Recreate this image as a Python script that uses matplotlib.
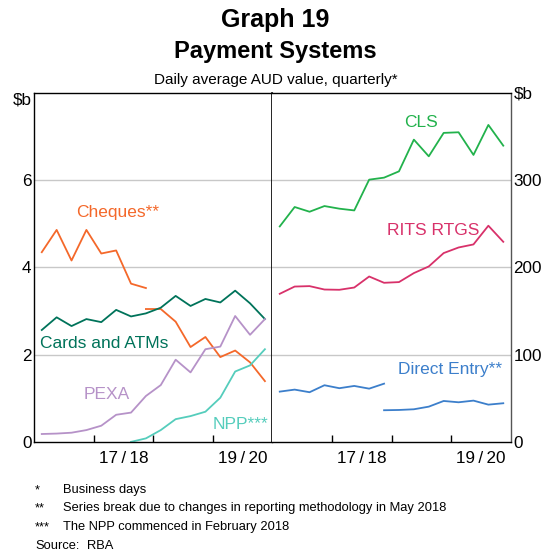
import numpy as np
import matplotlib
matplotlib.use("Agg")
import matplotlib.pyplot as plt

plt.rcParams['font.family'] = ['Liberation Sans', 'DejaVu Sans']

# quarters Sep-2016 .. Jun-2020 (16 quarters), plotted mid-quarter
quarters = np.arange(16) + 0.5

# left panel, $b
cheques_old = [4.35, 4.86, 4.16, 4.86, 4.32, 4.39, 3.63, 3.53]
cheques_new = [3.05, 3.05, 2.76, 2.18, 2.41, 1.95, 2.10, 1.83, 1.40]
cards_atms = [2.57, 2.86, 2.66, 2.82, 2.75, 3.03, 2.88, 2.95, 3.08, 3.35, 3.12, 3.28, 3.20, 3.47, 3.18, 2.82]
pexa = [0.19, 0.20, 0.22, 0.28, 0.38, 0.63, 0.68, 1.06, 1.31, 1.89, 1.60, 2.13, 2.19, 2.89, 2.46, 2.82]
npp = [0.01, 0.09, 0.28, 0.53, 0.60, 0.70, 1.02, 1.62, 1.76, 2.13]

# right panel, $b
cls = [247.0, 269.2, 263.8, 270.3, 267.3, 265.3, 300.5, 302.8, 310.0, 346.3, 327.2, 354.0, 354.7, 328.8, 363.1, 339.4]
rits = [169.9, 178.2, 178.7, 174.8, 174.5, 177.1, 189.7, 182.5, 183.3, 193.6, 201.2, 216.5, 222.9, 226.4, 247.8, 229.4]
de_old = [58.0, 60.3, 57.3, 65.3, 61.9, 64.5, 61.4, 67.1]
de_new = [36.7, 37.0, 37.8, 40.8, 47.3, 45.8, 47.7, 43.1, 44.7]

year_labels = ['17\u2009/\u200918', '19\u2009/\u200920']

c_cheq = '#F4682A'
c_cards = '#00735A'
c_pexa = '#B692C8'
c_npp = '#55CDBC'
c_cls = '#22B24C'
c_rits = '#D8316A'
c_de = '#3C7FCB'

fig = plt.figure(figsize=(5.51, 5.57), dpi=100)
axl = fig.add_axes([0.0623, 0.2059, 0.432, 0.6277])
axr = fig.add_axes([0.4942, 0.2059, 0.4327, 0.6277])

lw = 1.3
axl.plot(quarters[:8], cheques_old, color=c_cheq, lw=lw)
axl.plot(quarters[7:], cheques_new, color=c_cheq, lw=lw)
axl.plot(quarters, cards_atms, color=c_cards, lw=lw)
axl.plot(quarters, pexa, color=c_pexa, lw=lw)
axl.plot(quarters[6:], npp, color=c_npp, lw=lw)

axr.plot(quarters, cls, color=c_cls, lw=lw)
axr.plot(quarters, rits, color=c_rits, lw=lw)
axr.plot(quarters[:8], de_old, color=c_de, lw=lw)
axr.plot(quarters[7:], de_new, color=c_de, lw=lw)

fs = 12.5
axl.text(5.6, 5.25, 'Cheques**', color=c_cheq, fontsize=fs, ha='center', va='center')
axl.text(4.68, 2.25, 'Cards and ATMs', color=c_cards, fontsize=fs, ha='center', va='center')
axl.text(4.9, 1.1, 'PEXA', color=c_pexa, fontsize=fs, ha='center', va='center')
axl.text(15.75, 0.4, 'NPP***', color=c_npp, fontsize=fs, ha='right', va='center')
axr.text(10.0, 366, 'CLS', color=c_cls, fontsize=fs, ha='center', va='center')
axr.text(10.8, 242, 'RITS RTGS', color=c_rits, fontsize=fs, ha='center', va='center')
axr.text(11.9, 83.5, 'Direct Entry**', color=c_de, fontsize=fs, ha='center', va='center')

tfs = 12.3
for ax, top, step, lab in [(axl, 8, 2, ['0', '2', '4', '6', '$b']),
                           (axr, 400, 100, ['0', '100', '200', '300', '$b'])]:
    ax.set_xlim(0, 16)
    ax.set_ylim(0, top)
    ax.set_yticks(np.arange(0, top + 1, step))
    ax.set_yticklabels(lab)
    ax.set_xticks([4, 8, 12])
    ax.set_xticks([6, 14], minor=True)
    ax.set_xticklabels([])
    ax.set_xticklabels(year_labels, minor=True)
    ax.tick_params(axis='x', which='major', direction='in', length=5, width=1)
    ax.tick_params(axis='x', which='minor', length=0, labelsize=tfs, pad=6)
    ax.tick_params(axis='y', length=0, labelsize=tfs, pad=2)
    for y in np.arange(step, top, step):
        ax.axhline(y, color='#C8C8C8', lw=1, zorder=0)
    for s in ax.spines.values():
        s.set_linewidth(1)
    # "$b" unit label sits just below the top of the axis
    ax.get_yticklabels()[-1].set_verticalalignment('top')

axl.spines['right'].set_linewidth(1.2)
axr.spines['left'].set_visible(False)
axr.yaxis.tick_right()
axr.tick_params(axis='y', pad=2)
axr.spines['right'].set_color('#555555')

fig.text(0.5, 0.964, 'Graph 19', ha='center', va='center', fontsize=18, fontweight='bold')
fig.text(0.5, 0.907, 'Payment Systems', ha='center', va='center', fontsize=17, fontweight='bold')
fig.text(0.5, 0.856, 'Daily average AUD value, quarterly*', ha='center', va='center', fontsize=11)

notes = [('*', 'Business days'),
         ('**', 'Series break due to changes in reporting methodology in May 2018'),
         ('***', 'The NPP commenced in February 2018')]
ys = [490, 508.5, 527]
nfs = 9.3
for (m, t), y in zip(notes, ys):
    fig.text(35 / 551, 1 - y / 557, m, ha='left', va='center', fontsize=nfs)
    fig.text(63 / 551, 1 - y / 557, t, ha='left', va='center', fontsize=nfs)
fig.text(35 / 551, 1 - 546 / 557, 'Source:', ha='left', va='center', fontsize=nfs)
fig.text(87 / 551, 1 - 546 / 557, 'RBA', ha='left', va='center', fontsize=nfs)

fig.savefig('out.png', dpi=100)
